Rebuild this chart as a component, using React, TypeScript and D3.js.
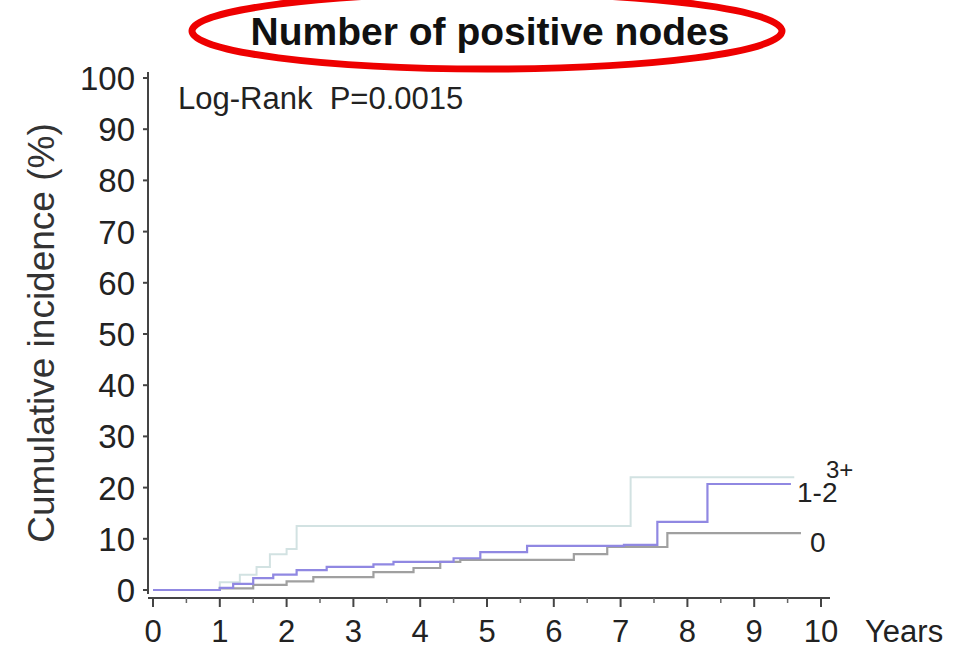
import React, { useEffect, useRef } from 'react'
import * as d3 from 'd3'

// cumulative incidence step points
const years3 = [0, 0.8, 1.0, 1.3, 1.55, 1.75, 2.0, 2.15, 7.15, 9.6]
const pct3 = [0, 0, 1.5, 3, 4.5, 7, 8, 12.5, 22, 22]

const years12 = [0, 1.0, 1.2, 1.5, 1.8, 2.15, 2.6, 3.3, 3.6, 4.5, 4.9, 5.6, 7.05, 7.55, 8.3, 9.55]
const pct12 = [0, 0.4, 1.2, 2.3, 3, 3.9, 4.5, 5, 5.5, 6.2, 7.4, 8.6, 8.8, 13.3, 20.7, 20.7]

const years0 = [0, 1.0, 1.5, 2.0, 2.4, 3.3, 3.9, 4.3, 4.6, 6.3, 6.8, 7.7, 9.7]
const pct0 = [0, 0.3, 1.0, 1.7, 2.5, 3.5, 4.3, 5.5, 5.9, 7.0, 8.4, 11.1, 11.1]

const groupNames = ['3+', '1-2', '0']
const xTicks = [0, 1, 2, 3, 4, 5, 6, 7, 8, 9, 10]
const yTicks = [0, 10, 20, 30, 40, 50, 60, 70, 80, 90, 100]

const W = 956
const H = 651

export default function App() {
  const ref = useRef<SVGSVGElement>(null)

  useEffect(() => {
    const svg = d3.select(ref.current)
    svg.selectAll('*').remove()

    const x = d3.scaleLinear().domain([0, 10]).range([153, 821])
    const y = d3.scaleLinear().domain([0, 100]).range([590, 78])

    const font = 'Liberation Sans, Arial, sans-serif'

    // title with red ellipse
    svg.append('ellipse')
      .attr('cx', 487).attr('cy', 31)
      .attr('rx', 295).attr('ry', 38)
      .attr('fill', 'none')
      .attr('stroke', '#ee0000')
      .attr('stroke-width', 7)

    svg.append('text')
      .attr('x', 490).attr('y', 45)
      .attr('text-anchor', 'middle')
      .style('font-family', font)
      .style('font-weight', 'bold')
      .style('font-size', 39)
      .attr('fill', '#111')
      .text('Number of positive nodes')

    // y axis
    svg.append('line')
      .attr('x1', 148).attr('x2', 148)
      .attr('y1', 72).attr('y2', 594)
      .attr('stroke', '#444').attr('stroke-width', 2)
    svg.selectAll('.ytick')
      .data(yTicks)
      .enter()
      .append('line')
      .attr('x1', 143).attr('x2', 148)
      .attr('y1', d => y(d)).attr('y2', d => y(d))
      .attr('stroke', '#444').attr('stroke-width', 2)
    svg.selectAll('.ylab')
      .data(yTicks)
      .enter()
      .append('text')
      .attr('x', 135)
      .attr('y', d => y(d) + 12)
      .attr('text-anchor', 'end')
      .style('font-family', font)
      .style('font-size', 33)
      .attr('fill', '#222')
      .text(d => d)

    svg.append('text')
      .attr('transform', 'rotate(-90)')
      .attr('x', -333)
      .attr('y', 54)
      .attr('text-anchor', 'middle')
      .style('font-family', font)
      .style('font-size', 37)
      .attr('fill', '#333')
      .text('Cumulative incidence (%)')

    // x axis
    svg.append('line')
      .attr('x1', 148).attr('x2', 830)
      .attr('y1', 598).attr('y2', 598)
      .attr('stroke', '#444').attr('stroke-width', 2)
    svg.selectAll('.xtick')
      .data(xTicks)
      .enter()
      .append('line')
      .attr('x1', d => x(d)).attr('x2', d => x(d))
      .attr('y1', 598).attr('y2', 607)
      .attr('stroke', '#444').attr('stroke-width', 2)
    svg.selectAll('.xminor')
      .data(xTicks.slice(0, -1).map(d => d + 0.5))
      .enter()
      .append('line')
      .attr('x1', d => x(d)).attr('x2', d => x(d))
      .attr('y1', 598).attr('y2', 603)
      .attr('stroke', '#666').attr('stroke-width', 1.5)
    svg.selectAll('.xlab')
      .data(xTicks)
      .enter()
      .append('text')
      .attr('x', d => x(d))
      .attr('y', 642)
      .attr('text-anchor', 'middle')
      .style('font-family', font)
      .style('font-size', 31)
      .attr('fill', '#222')
      .text(d => d)
    svg.append('text')
      .attr('x', 865).attr('y', 642)
      .style('font-family', font)
      .style('font-size', 31)
      .attr('fill', '#222')
      .text('Years')

    svg.append('text')
      .attr('x', 178).attr('y', 109)
      .style('font-family', font)
      .style('font-size', 31)
      .style('white-space', 'pre')
      .attr('fill', '#222')
      .text('Log-Rank  P=0.0015')

    // curves
    const line = d3.line<[number, number]>()
      .x(d => x(d[0]))
      .y(d => y(d[1]))
      .curve(d3.curveStepAfter)

    const series = [
      { pts: d3.zip(years3, pct3) as [number, number][], color: '#d2e2e2', w: 2 },
      { pts: d3.zip(years0, pct0) as [number, number][], color: '#a0a0a0', w: 2.2 },
      { pts: d3.zip(years12, pct12) as [number, number][], color: '#9088e2', w: 2.2 },
    ]
    series.forEach(s => {
      svg.append('path')
        .attr('d', line(s.pts))
        .attr('fill', 'none')
        .attr('stroke', s.color)
        .attr('stroke-width', s.w)
    })

    // end labels
    const labelPos = [
      { t: groupNames[0], x: 826, y: 478, size: 24 },
      { t: groupNames[1], x: 797, y: 502, size: 28 },
      { t: groupNames[2], x: 810, y: 552, size: 28 },
    ]
    labelPos.forEach(l => {
      svg.append('text')
        .attr('x', l.x).attr('y', l.y)
        .style('font-family', font)
        .style('font-size', l.size)
        .attr('fill', '#222')
        .text(l.t)
    })
  }, [])

  return (
    <svg
      ref={ref}
      width={W}
      height={H}
      style={{ position: 'absolute', left: 0, top: 0, background: '#fff' }}
    />
  )
}
